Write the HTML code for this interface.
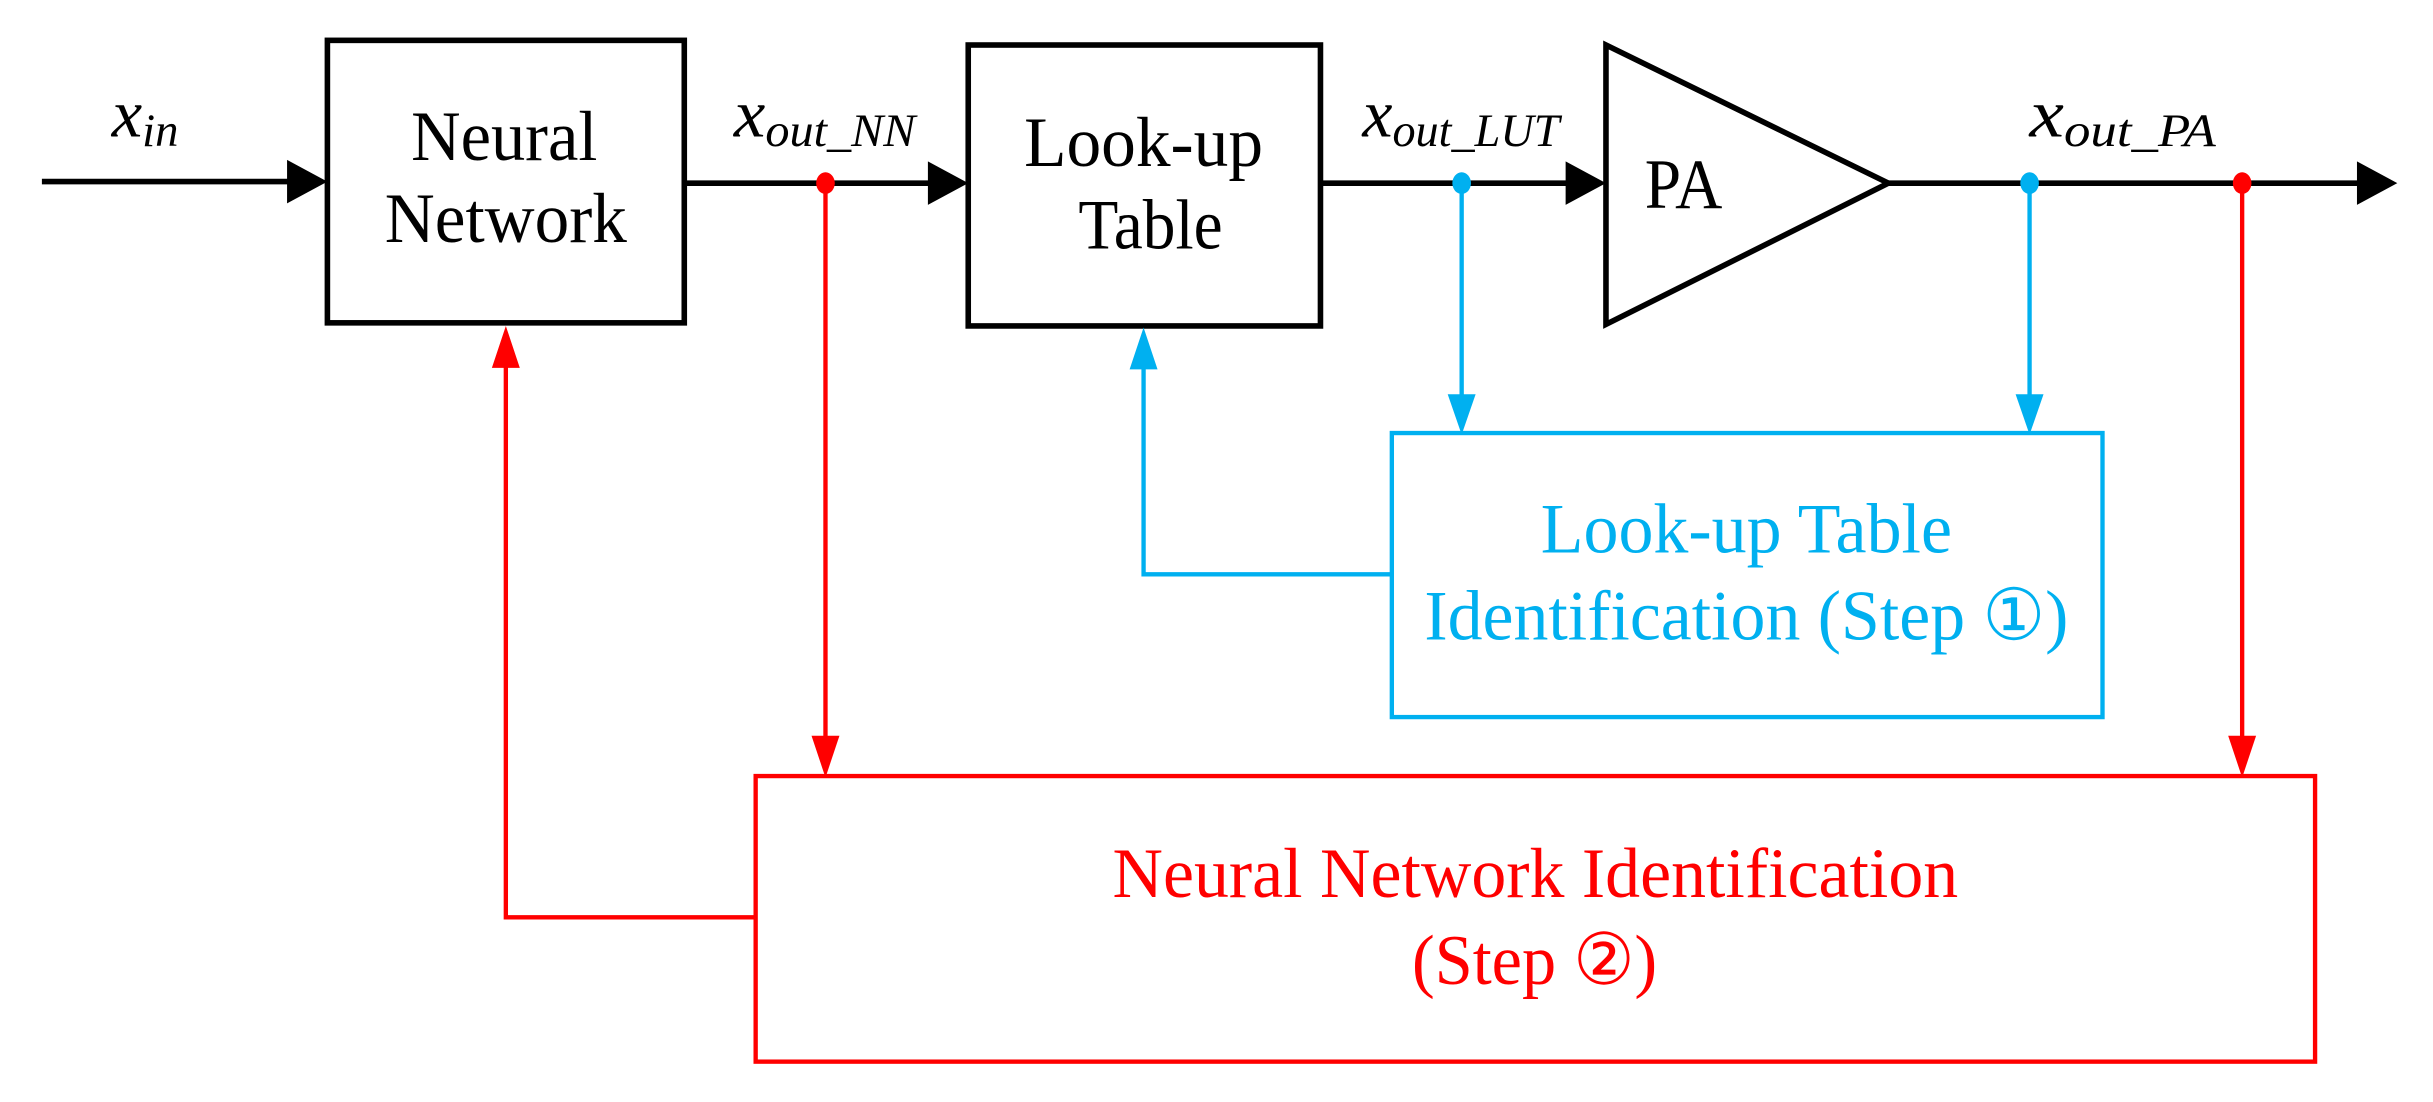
<!DOCTYPE html>
<html><head><meta charset="utf-8"><style>
html,body{margin:0;padding:0;background:#fff;}
svg{display:block;}
text{font-family:"Liberation Serif","DejaVu Serif",serif;}
</style></head><body>
<svg width="2433" height="1102" viewBox="0 0 1568 710" preserveAspectRatio="none" xmlns="http://www.w3.org/2000/svg">
<g stroke="#000" stroke-width="3.6" fill="none">
<line x1="27" y1="117" x2="195" y2="117"/>
<rect x="211" y="26" width="230" height="182"/>
<line x1="441" y1="118" x2="606" y2="118"/>
<rect x="624" y="29" width="227" height="181"/>
<line x1="851" y1="118" x2="1018" y2="118"/>
<polygon points="1035,29 1035,209 1217,118" stroke-linejoin="miter"/>
<line x1="1217" y1="118" x2="1530" y2="118"/>
</g>
<g fill="#000">
<polygon points="185,104 211,118 185,132" transform="translate(0,-1)"/>
<polygon points="598,104 624,118 598,132"/>
<polygon points="1009,104 1035,118 1009,132"/>
<polygon points="1519,104 1545,118 1519,132"/>
</g>
<g stroke="#00b0f0" stroke-width="2.8" fill="none">
<line x1="942" y1="118" x2="942" y2="260"/>
<line x1="1308" y1="118" x2="1308" y2="260"/>
<rect x="897" y="279" width="458" height="183"/>
<polyline points="897,370 737,370 737,235"/>
</g>
<g fill="#00b0f0">
<polygon points="933,254 951,254 942,280"/>
<polygon points="1299,254 1317,254 1308,280"/>
<polygon points="728,238 746,238 737,211"/>
<ellipse cx="942" cy="118" rx="6" ry="7"/>
<ellipse cx="1308" cy="118" rx="6" ry="7"/>
</g>
<g stroke="#ff0000" stroke-width="2.8" fill="none">
<line x1="532" y1="118" x2="532" y2="480"/>
<line x1="1445" y1="118" x2="1445" y2="480"/>
<rect x="487" y="500" width="1005" height="184"/>
<polyline points="487,591 326,591 326,234"/>
</g>
<g fill="#ff0000">
<polygon points="523,474 541,474 532,501"/>
<polygon points="1436,474 1454,474 1445,501"/>
<polygon points="317,237 335,237 326,210"/>
<ellipse cx="532" cy="118" rx="6" ry="7"/>
<ellipse cx="1445" cy="118" rx="6" ry="7"/>
</g>
<g fill="#000" font-size="46" lengthAdjust="spacingAndGlyphs">
<text x="265" y="103" textLength="120" lengthAdjust="spacingAndGlyphs">Neural</text>
<text x="248" y="156" textLength="156" lengthAdjust="spacingAndGlyphs">Network</text>
<text x="660" y="107" textLength="154" lengthAdjust="spacingAndGlyphs">Look-up</text>
<text x="695" y="160" textLength="93" lengthAdjust="spacingAndGlyphs">Table</text>
<text x="1060" y="134" textLength="50" lengthAdjust="spacingAndGlyphs">PA</text>
</g>
<g fill="#000" font-style="italic">
<text x="72" y="88" font-size="44" textLength="43" lengthAdjust="spacingAndGlyphs">x<tspan font-size="30" dy="6">in</tspan></text>
<text x="473" y="88" font-size="44" textLength="117" lengthAdjust="spacingAndGlyphs">x<tspan font-size="30" dy="6">out_NN</tspan></text>
<text x="878" y="88" font-size="44" textLength="127" lengthAdjust="spacingAndGlyphs">x<tspan font-size="30" dy="6">out_LUT</tspan></text>
<text x="1308" y="88" font-size="44" textLength="120" lengthAdjust="spacingAndGlyphs">x<tspan font-size="30" dy="6">out_PA</tspan></text>
</g>
<g fill="#00b0f0" font-size="46">
<text x="993" y="356" textLength="265" lengthAdjust="spacingAndGlyphs">Look-up Table</text>
<text x="918" y="412" textLength="415" lengthAdjust="spacingAndGlyphs">Identification (Step ①)</text>
</g>
<g fill="#ff0000" font-size="46">
<text x="717" y="578" textLength="545" lengthAdjust="spacingAndGlyphs">Neural Network Identification</text>
<text x="910" y="634" textLength="158" lengthAdjust="spacingAndGlyphs">(Step ②)</text>
</g>
</svg>
</body></html>
